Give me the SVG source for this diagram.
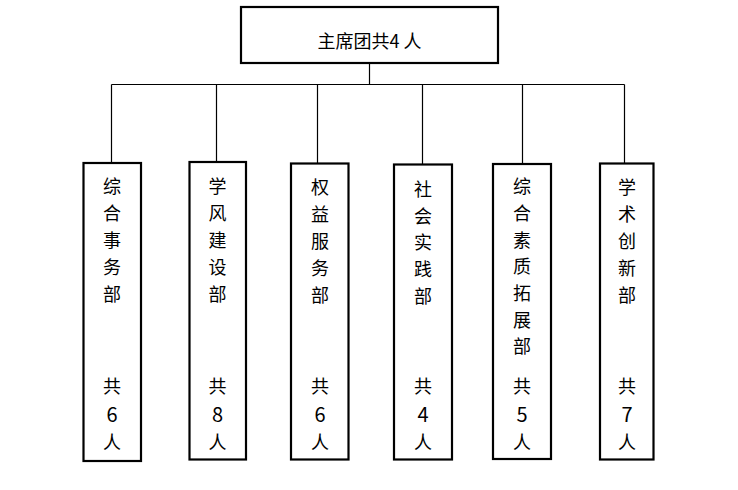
<svg xmlns="http://www.w3.org/2000/svg" width="738" height="490" viewBox="0 0 738 490">
<style>
.box{fill:#fff;stroke:#000;stroke-width:2.2}
.ln{fill:none;stroke:#000;stroke-width:1.2}
text{font-family:"Noto Sans CJK SC","Liberation Sans",sans-serif;font-size:18px;fill:#000;text-anchor:middle;dominant-baseline:central}
.d{font-size:20px}
</style>
<rect width="738" height="490" fill="#fff"/>
<g id="connectors">
<path class="ln" d="M369.5 63V84.5M111.5 84.5H624.5M111.5 84.5V163M216.5 84.5V162M317.5 84.5V163M422.5 84.5V164M522.5 84.5V164M624.5 84.5V163"/>
</g>
<g id="top">
<rect class="box" x="241" y="7" width="257" height="56"/>
<text x="369.5" y="40">主席团共4 人</text>
</g>
<g id="n1">
<rect class="box" x="83.5" y="163" width="57.5" height="298"/>
<text x="112" y="185">综</text><text x="112" y="212">合</text><text x="112" y="239">事</text><text x="112" y="266">务</text><text x="112" y="293">部</text>
<text x="112" y="385">共</text><text class="d" x="112" y="413">6</text><text x="112" y="441">人</text>
</g>
<g id="n2">
<rect class="box" x="189.5" y="162" width="56.5" height="297.5"/>
<text x="217.5" y="185">学</text><text x="217.5" y="212">风</text><text x="217.5" y="239">建</text><text x="217.5" y="266">设</text><text x="217.5" y="293">部</text>
<text x="217.5" y="385">共</text><text class="d" x="217.5" y="413">8</text><text x="217.5" y="441">人</text>
</g>
<g id="n3">
<rect class="box" x="291" y="163.5" width="57.5" height="296"/>
<text x="320" y="186">权</text><text x="320" y="213">益</text><text x="320" y="240">服</text><text x="320" y="267">务</text><text x="320" y="294">部</text>
<text x="320" y="385">共</text><text class="d" x="320" y="413">6</text><text x="320" y="441">人</text>
</g>
<g id="n4">
<rect class="box" x="394" y="164.5" width="58" height="295"/>
<text x="423" y="188">社</text><text x="423" y="215">会</text><text x="423" y="241">实</text><text x="423" y="268">践</text><text x="423" y="295">部</text>
<text x="423" y="385">共</text><text class="d" x="423" y="413">4</text><text x="423" y="441">人</text>
</g>
<g id="n5">
<rect class="box" x="493" y="164" width="58" height="295"/>
<text x="522" y="185">综</text><text x="522" y="212">合</text><text x="522" y="239">素</text><text x="522" y="265">质</text><text x="522" y="292">拓</text><text x="522" y="319">展</text><text x="522" y="345">部</text>
<text x="522" y="385">共</text><text class="d" x="522" y="413">5</text><text x="522" y="441">人</text>
</g>
<g id="n6">
<rect class="box" x="600" y="163.5" width="53.5" height="296"/>
<text x="627" y="186">学</text><text x="627" y="213">术</text><text x="627" y="240">创</text><text x="627" y="267">新</text><text x="627" y="294">部</text>
<text x="627" y="385">共</text><text class="d" x="627" y="413">7</text><text x="627" y="441">人</text>
</g>
</svg>
